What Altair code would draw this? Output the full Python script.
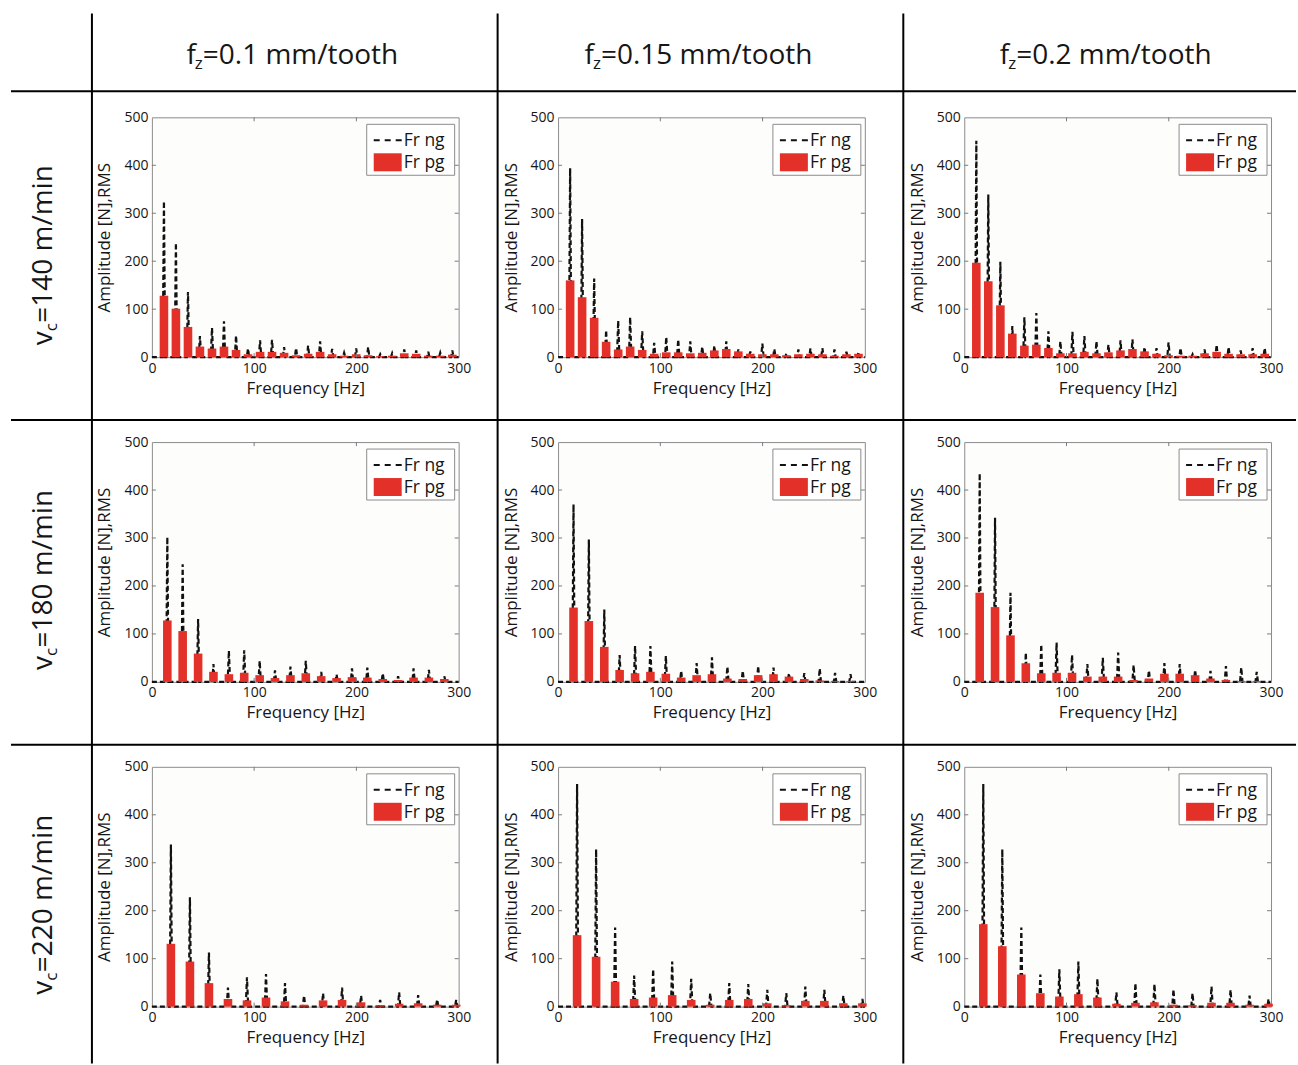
import altair as alt
import pandas as pd

FONT = "Open Sans"
RED = "#e3312a"
INK = "#161616"

speeds = ["140", "180", "220"]
feeds = ["0.1", "0.15", "0.2"]

x_ticks = [0, 100, 200, 300]
y_ticks = [0, 100, 200, 300, 400, 500]
x_inner = [100, 200]
y_inner = [100, 200, 300, 400]

# harmonic frequencies [Hz] read from the peaks of each row
harm_140 = [11.8, 23.5, 35.3, 47.0, 58.8, 70.5, 82.3, 94.0, 105.8, 117.5, 129.3, 141.0, 152.8,
            164.5, 176.3, 188.0, 199.8, 211.5, 223.3, 235.0, 246.8, 258.5, 270.3, 282.0, 293.8]
harm_180 = [15.1, 30.1, 45.2, 60.2, 75.3, 90.3, 105.4, 120.4, 135.5, 150.5, 165.6, 180.6, 195.7,
            210.7, 225.8, 240.8, 255.9, 270.9, 286.0]
harm_220 = [18.6, 37.2, 55.8, 74.4, 93.0, 111.6, 130.2, 148.8, 167.4, 186.0, 204.6, 223.2, 241.8,
            260.4, 279.0, 297.6]

# Fr ng (dashed) and Fr pg (red) peak amplitudes
ng_140_01 = [325, 238, 136, 44, 61, 75, 45, 18, 35, 36, 21, 19, 24, 33, 17, 9, 18, 21, 6, 8, 16, 14, 11, 9, 14]
pg_140_01 = [128, 101, 63, 22, 18, 22, 15, 6, 11, 11, 9, 4, 7, 11, 6, 3, 6, 4, 2, 3, 8, 7, 3, 3, 5]
ng_140_015 = [394, 288, 164, 56, 76, 83, 54, 30, 42, 37, 33, 22, 24, 33, 16, 12, 28, 17, 8, 16, 18, 19, 16, 11, 11]
pg_140_015 = [160, 125, 82, 32, 16, 22, 15, 7, 10, 10, 8, 9, 14, 17, 12, 7, 6, 6, 4, 6, 7, 6, 3, 6, 7]
ng_140_02 = [451, 339, 199, 65, 83, 92, 54, 33, 53, 44, 33, 26, 35, 37, 21, 19, 31, 19, 6, 16, 26, 21, 14, 19, 19]
pg_140_02 = [197, 158, 108, 49, 24, 26, 19, 8, 8, 11, 8, 10, 14, 17, 12, 7, 4, 3, 3, 8, 11, 7, 6, 6, 7]

ng_180_01 = [302, 245, 131, 37, 65, 66, 44, 24, 32, 44, 21, 16, 28, 30, 18, 12, 28, 25, 12]
pg_180_01 = [128, 106, 59, 21, 16, 19, 14, 8, 14, 18, 12, 8, 10, 9, 6, 4, 9, 9, 6]
ng_180_015 = [370, 297, 151, 56, 75, 75, 54, 23, 39, 51, 32, 23, 33, 30, 18, 18, 28, 19, 16]
pg_180_015 = [155, 127, 73, 25, 18, 21, 17, 9, 14, 16, 7, 6, 14, 16, 11, 6, 3, 2, 2]
ng_180_02 = [435, 342, 186, 61, 78, 82, 56, 37, 50, 61, 35, 24, 39, 37, 25, 23, 33, 30, 21]
pg_180_02 = [186, 156, 97, 39, 18, 19, 19, 11, 11, 11, 4, 7, 17, 17, 14, 7, 4, 2, 2]

ng_220_01 = [338, 228, 113, 40, 61, 68, 49, 23, 28, 40, 23, 14, 30, 24, 15, 14]
pg_220_01 = [131, 94, 49, 16, 13, 19, 11, 4, 13, 14, 9, 3, 6, 7, 4, 4]
ng_220_015 = [464, 328, 165, 65, 78, 94, 58, 28, 49, 47, 35, 28, 42, 35, 23, 16]
pg_220_015 = [149, 104, 52, 16, 19, 24, 14, 4, 14, 16, 7, 3, 12, 12, 7, 7]
ng_220_02 = [464, 328, 165, 67, 78, 94, 58, 30, 49, 47, 36, 28, 42, 35, 23, 16]
pg_220_02 = [172, 126, 67, 28, 21, 26, 19, 6, 8, 9, 4, 3, 8, 8, 4, 6]

HARM = [harm_140, harm_180, harm_220]
NG = [[ng_140_01, ng_140_015, ng_140_02],
      [ng_180_01, ng_180_015, ng_180_02],
      [ng_220_01, ng_220_015, ng_220_02]]
PG = [[pg_140_01, pg_140_015, pg_140_02],
      [pg_180_01, pg_180_015, pg_180_02],
      [pg_220_01, pg_220_015, pg_220_02]]

W, H = 307, 240

XS = alt.Scale(domain=[0, 300], nice=False, zero=False)
YS = alt.Scale(domain=[0, 500], nice=False)
XAX = alt.Axis(title="Frequency [Hz]", values=x_ticks, ticks=False, grid=False, domain=False,
               labelPadding=4, titlePadding=5, labelFontSize=14, titleFontSize=17,
               labelFont=FONT, titleFont=FONT, labelColor=INK, titleColor=INK,
               titleFontWeight="normal", labelFlush=False)
YAX = alt.Axis(title="Amplitude [N],RMS", values=y_ticks, ticks=False, grid=False, domain=False,
               labelPadding=4, titlePadding=10, labelFontSize=14, titleFontSize=17,
               labelFont=FONT, titleFont=FONT, labelColor=INK, titleColor=INK,
               titleFontWeight="normal")

D = alt.Data(values=[{"k": 0}])


def txt(s, x, y, size, align="left", angle=None):
    kw = dict(text=s, align=align, baseline="alphabetic", font=FONT, fontSize=size, color=INK)
    if angle is not None:
        kw["angle"] = angle
    return alt.Chart(D).mark_text(**kw).encode(x=alt.value(x), y=alt.value(y))


def hline(x1, x2, y):
    return alt.Chart(D).mark_rule(color="black", strokeWidth=2).encode(
        x=alt.value(x1), x2=alt.value(x2), y=alt.value(y))


def vline(x, y1, y2):
    return alt.Chart(D).mark_rule(color="black", strokeWidth=2).encode(
        x=alt.value(x), y=alt.value(y1), y2=alt.value(y2))


header_x = [51, 43, 52]


def panel(r, c):
    f = HARM[r]
    ng = NG[r][c]
    pg = PG[r][c]
    rows = [{"f": 0.0, "a": 0.0}]
    for fk, a in zip(f, ng):
        rows += [{"f": fk - 1.2, "a": 0}, {"f": fk, "a": a}, {"f": fk + 1.2, "a": 0}]
    rows.append({"f": 300.0, "a": 0.0})
    ldf = pd.DataFrame(rows)

    line = alt.Chart(ldf).mark_line(color="#111111", strokeWidth=2.2, strokeDash=[5, 3]).encode(
        x=alt.X("f:Q", scale=XS, axis=XAX), y=alt.Y("a:Q", scale=YS, axis=YAX))

    bdf = pd.DataFrame({"f": f, "a": pg})
    bars = alt.Chart(bdf).transform_calculate(lo="datum.f - 4.2", hi="datum.f + 4.2").mark_rect(
        color=RED).encode(
        x=alt.X("lo:Q", scale=XS, axis=XAX), x2="hi:Q",
        y=alt.Y("a:Q", scale=YS, axis=YAX), y2=alt.datum(0))

    tick_c = "#7a7a7a"
    tb = alt.Chart(pd.DataFrame({"t": x_inner})).mark_rule(color=tick_c, strokeWidth=1).encode(
        x=alt.X("t:Q", scale=XS, axis=XAX), y=alt.value(H), y2=alt.value(H - 4))
    tt = alt.Chart(pd.DataFrame({"t": x_inner})).mark_rule(color=tick_c, strokeWidth=1).encode(
        x=alt.X("t:Q", scale=XS, axis=XAX), y=alt.value(0), y2=alt.value(4))
    tl = alt.Chart(pd.DataFrame({"t": y_inner})).mark_rule(color=tick_c, strokeWidth=1).encode(
        y=alt.Y("t:Q", scale=YS, axis=YAX), x=alt.value(0), x2=alt.value(4))
    tr = alt.Chart(pd.DataFrame({"t": y_inner})).mark_rule(color=tick_c, strokeWidth=1).encode(
        y=alt.Y("t:Q", scale=YS, axis=YAX), x=alt.value(W), x2=alt.value(W - 4))

    lbox = alt.Chart(D).mark_rect(fill="white", stroke="#8c8c8c", strokeWidth=1).encode(
        x=alt.value(215), x2=alt.value(303), y=alt.value(7), y2=alt.value(58))
    ldash = alt.Chart(D).mark_rule(color="#111111", strokeWidth=2, strokeDash=[6, 5]).encode(
        x=alt.value(222), x2=alt.value(250), y=alt.value(23))
    lred = alt.Chart(D).mark_rect(color=RED).encode(
        x=alt.value(222), x2=alt.value(250), y=alt.value(36), y2=alt.value(54))
    lt1 = txt("Fr ng", 252, 29, 17.5)
    lt2 = txt("Fr pg", 252, 51, 17.5)

    layers = [line, bars, tb, tt, tl, tr, lbox, ldash, lred, lt1, lt2]

    if r == 0:
        ex = header_x[c]
        layers += [txt("f", ex - 7, -53, 28, align="right"),
                   txt("z", ex - 8, -48.5, 17),
                   txt("=" + feeds[c] + " mm/tooth", ex, -53, 28)]
    if c == 0:
        layers += [txt("v", -99.5, 228, 28, angle=270),
                   txt("c", -95, 214, 17, angle=270),
                   txt("=" + speeds[r] + " m/min", -99.5, 205.5, 28, angle=270)]
    if r == 0 and c == 0:
        for vx in [-60, 346, 752]:
            layers.append(vline(vx, -104, 947))
        for hy in [-26, 303, 628]:
            layers.append(hline(-141, 1145, hy))

    return alt.layer(*layers).properties(width=W, height=H)


panels = [panel(r, c) for r in range(3) for c in range(3)]

chart = alt.concat(*panels, columns=3, spacing={"row": 85, "column": 99.5}, bounds="flush").configure_view(
    stroke="#8c8c8c", strokeWidth=1, fill="#fdfdfc"
).properties(
    padding={"left": 9, "top": 11, "right": 0, "bottom": 0}, background="white"
)

chart.save("out.html", embed_options={"renderer": "svg", "actions": False})
